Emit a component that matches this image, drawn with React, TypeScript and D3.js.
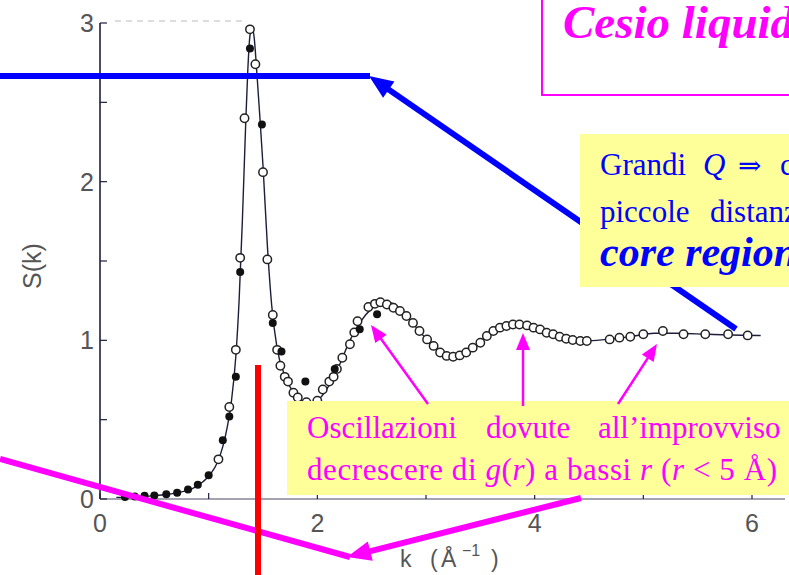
import React from "react";
import * as d3 from "d3";

// ---- data: S(k) of liquid caesium ----
const fitK = [0.15, 0.3, 0.45, 0.6, 0.75, 0.85, 0.95, 1.02, 1.08, 1.13, 1.17, 1.21, 1.25, 1.28, 1.31, 1.34, 1.36, 1.38, 1.4, 1.42, 1.44, 1.47, 1.5, 1.54, 1.58, 1.63, 1.7, 1.78, 1.86, 1.95, 2.03, 2.12, 2.2, 2.3, 2.4, 2.5, 2.6, 2.68, 2.76, 2.85, 2.95, 3.05, 3.15, 3.25, 3.35, 3.45, 3.55, 3.65, 3.75, 3.85, 3.95, 4.05, 4.2, 4.35, 4.5, 4.7, 4.9, 5.1, 5.3, 5.6, 5.9, 6.08];
const fitS = [0.01, 0.012, 0.018, 0.028, 0.045, 0.065, 0.11, 0.16, 0.23, 0.33, 0.45, 0.62, 0.9, 1.25, 1.75, 2.35, 2.7, 2.92, 2.97, 2.9, 2.72, 2.42, 2.1, 1.6, 1.22, 0.95, 0.78, 0.67, 0.62, 0.61, 0.64, 0.73, 0.84, 1.0, 1.12, 1.2, 1.24, 1.235, 1.2, 1.13, 1.05, 0.97, 0.92, 0.9, 0.915, 0.955, 1.02, 1.065, 1.09, 1.1, 1.085, 1.065, 1.035, 1.01, 0.998, 1.008, 1.025, 1.045, 1.045, 1.038, 1.032, 1.03];

const openK = [1.09, 1.19, 1.25, 1.29, 1.33, 1.38, 1.43, 1.5, 1.54, 1.59, 1.63, 1.66, 1.7, 1.73, 1.78, 1.82, 1.9, 2.0, 2.05, 2.11, 2.15, 2.18, 2.23, 2.3, 2.34, 2.37, 2.47, 2.53, 2.58, 2.64, 2.7, 2.76, 2.82, 2.88, 2.94, 3.01, 3.07, 3.13, 3.19, 3.25, 3.31, 3.37, 3.43, 3.5, 3.56, 3.62, 3.68, 3.74, 3.8, 3.86, 3.93, 3.99, 4.05, 4.11, 4.17, 4.23, 4.29, 4.35, 4.42, 4.48, 4.69, 4.78, 4.88, 5.0, 5.18, 5.37, 5.57, 5.78, 5.96];
const openS = [0.25, 0.58, 0.94, 1.52, 2.4, 2.96, 2.74, 2.06, 1.51, 1.16, 0.94, 0.84, 0.77, 0.74, 0.67, 0.64, 0.61, 0.62, 0.69, 0.74, 0.77, 0.82, 0.89, 0.975, 1.05, 1.12, 1.21, 1.23, 1.24, 1.226, 1.205, 1.185, 1.153, 1.11, 1.059, 1.006, 0.965, 0.923, 0.902, 0.897, 0.905, 0.923, 0.954, 0.985, 1.027, 1.059, 1.08, 1.09, 1.1, 1.1, 1.094, 1.08, 1.069, 1.048, 1.038, 1.023, 1.01, 1.002, 0.996, 0.996, 1.006, 1.017, 1.023, 1.038, 1.059, 1.038, 1.038, 1.038, 1.031];

const filledK = [0.23, 0.32, 0.41, 0.5, 0.61, 0.71, 0.81, 0.9, 1.0, 1.13, 1.19, 1.25, 1.29, 1.38, 1.49, 1.59, 1.67, 1.89, 2.16, 2.39, 2.55];
const filledS = [0.012, 0.016, 0.02, 0.022, 0.03, 0.04, 0.06, 0.09, 0.15, 0.37, 0.52, 0.77, 1.43, 2.84, 2.36, 1.11, 0.93, 0.74, 0.82, 1.07, 1.165];

const xMajor = [0, 2, 4, 6];
const xMinor = [1, 3, 5];
const yMajor = [0, 1, 2, 3];
const yMinor = [0.5, 1.5, 2.5];

const W = 789;
const H = 575;

function head(x1: number, y1: number, x2: number, y2: number, len: number, hw: number) {
  const dx = x2 - x1, dy = y2 - y1;
  const L = Math.hypot(dx, dy);
  const ux = dx / L, uy = dy / L;
  const bx = x2 - ux * len, by = y2 - uy * len;
  const px = -uy, py = ux;
  return {
    pts: `${x2},${y2} ${bx + px * hw},${by + py * hw} ${bx - px * hw},${by - py * hw}`,
    bx: x2 - ux * len * 0.8,
    by: y2 - uy * len * 0.8,
  };
}

function Arrow({ x1, y1, x2, y2, color, width, len, hw }: any) {
  const h = head(x1, y1, x2, y2, len, hw);
  return (
    <g>
      <line x1={x1} y1={y1} x2={h.bx} y2={h.by} stroke={color} strokeWidth={width} />
      <polygon points={h.pts} fill={color} />
    </g>
  );
}

export default function App() {
  const x = d3.scaleLinear().domain([0, 6]).range([100, 752]);
  const y = d3.scaleLinear().domain([0, 3]).range([499, 23]);
  const line = d3
    .line<number>()
    .x((_, i) => x(fitK[i]))
    .y((d) => y(d))
    .curve(d3.curveMonotoneX);
  const ink = "#1e1e3c";
  const axisText = "#555";
  const sans = "'Liberation Sans', Arial, sans-serif";
  const serif = "'Liberation Serif', 'Times New Roman', serif";
  const yellow = "#FFFF99";
  const magenta = "#FF00FF";
  const blue = "#0000FF";

  return (
    <div style={{ position: "absolute", left: 0, top: 0 }}>
      <style>{`body{margin:0}`}</style>
      <svg width={W} height={H} viewBox={`0 0 ${W} ${H}`} style={{ display: "block", background: "#fff" }}>
        {/* faint scanned frame top */}
        <line x1={115} y1={21} x2={246} y2={21} stroke="#bbb" strokeWidth={1.2} strokeDasharray="6 5" />
        {/* axes */}
        <line x1={x(0)} y1={y(3)} x2={x(0)} y2={y(0)} stroke={ink} strokeWidth={1.6} />
        <line x1={x(0)} y1={y(0)} x2={785} y2={y(0)} stroke={ink} strokeWidth={1.2} opacity={0.8} />
        {yMajor.concat(yMinor).map((v) => (
          <line key={"yt" + v} x1={x(0)} x2={x(0) + 7} y1={y(v)} y2={y(v)} stroke={ink} strokeWidth={1.2} />
        ))}
        {xMajor.concat(xMinor).map((v) => (
          <line key={"xt" + v} x1={x(v)} x2={x(v)} y1={y(0)} y2={y(0) - 6} stroke={ink} strokeWidth={1.2} />
        ))}
        {yMajor.map((v) => (
          <text key={"yl" + v} x={x(0) - 6} y={y(v) + 9} textAnchor="end" fontFamily={sans} fontSize={25} fill={axisText}>
            {v}
          </text>
        ))}
        {xMajor.map((v) => (
          <text key={"xl" + v} x={x(v)} y={532} textAnchor="middle" fontFamily={sans} fontSize={25} fill={axisText}>
            {v}
          </text>
        ))}
        <text transform="translate(41,266) rotate(-90)" textAnchor="middle" fontFamily={sans} fontSize={25} fill={axisText}>
          S(k)
        </text>
        <text y={567} fontFamily={sans} fontSize={23} fill={axisText}>
          <tspan x={400}>k</tspan>
          <tspan x={430}>(</tspan>
          <tspan x={441}>Å</tspan>
          <tspan x={462} dy={-11} fontSize={16}>−1</tspan>
          <tspan x={491} dy={11}>)</tspan>
        </text>

        {/* fitted curve */}
        <path d={line(fitS) || ""} fill="none" stroke={ink} strokeWidth={1.4} />
        {openK.map((k, i) => (
          <circle key={"o" + i} cx={x(k)} cy={y(openS[i])} r={4.2} fill="#fff" stroke="#222" strokeWidth={1.5} />
        ))}
        {filledK.map((k, i) => (
          <circle key={"f" + i} cx={x(k)} cy={y(filledS[i])} r={4} fill="#111" />
        ))}

        {/* blue horizontal line + arrow */}
        <line x1={0} y1={76} x2={370} y2={76} stroke={blue} strokeWidth={6} />
        <Arrow x1={736} y1={329} x2={369} y2={76} color={blue} width={6} len={24} hw={10} />

        {/* title box */}
        <rect x={542} y={-5} width={260} height={100} fill="#fff" stroke={magenta} strokeWidth={2} />
        <text x={563} y={38} fontFamily={serif} fontSize={47} fontWeight="bold" fontStyle="italic" fill={magenta}>
          Cesio liquido
        </text>

        {/* yellow box 1 */}
        <rect x={580} y={134} width={220} height={153} fill={yellow} />
        <g fontFamily={serif} fontSize={31} fill={blue}>
          <text x={600} y={175}>Grandi</text>
          <text x={703} y={175} fontStyle="italic">Q</text>
          <text x={738} y={175} fontFamily="'DejaVu Serif', serif" fontSize={28}>⇒</text>
          <text x={780} y={175}>contributo</text>
          <text x={600} y={222}>piccole</text>
          <text x={710} y={222}>distanze</text>
          <text x={600} y={266} fontSize={42} fontWeight="bold" fontStyle="italic">core region</text>
        </g>

        {/* yellow box 2 */}
        <rect x={287} y={401} width={510} height={94} fill={yellow} />
        <g fontFamily={serif} fontSize={31} fill={magenta}>
          <text x={307} y={438}>Oscillazioni</text>
          <text x={486} y={438}>dovute</text>
          <text x={598} y={438}>all’improvviso</text>
          <text x={307} y={480} textLength={470} lengthAdjust="spacing">
            decrescere di <tspan fontStyle="italic">g</tspan>(<tspan fontStyle="italic">r</tspan>) a bassi{" "}
            <tspan fontStyle="italic">r</tspan>{"  "}(<tspan fontStyle="italic">r</tspan> {"<"} 5 Å)
          </text>
        </g>

        {/* thin magenta arrows */}
        <Arrow x1={428} y1={404} x2={371} y2={325} color={magenta} width={2.5} len={17} hw={7} />
        <Arrow x1={523} y1={406} x2={523} y2={333} color={magenta} width={2.5} len={17} hw={7} />
        <Arrow x1={618} y1={404} x2={657} y2={344} color={magenta} width={2.5} len={17} hw={7} />

        {/* thick magenta lines */}
        <line x1={0} y1={459} x2={350} y2={557} stroke={magenta} strokeWidth={6} />
        <Arrow x1={581} y1={498} x2={347} y2={557} color={magenta} width={6} len={24} hw={10} />

        {/* red vertical line */}
        <line x1={258} y1={365} x2={258} y2={575} stroke="#FF0000" strokeWidth={6} />
      </svg>
    </div>
  );
}
